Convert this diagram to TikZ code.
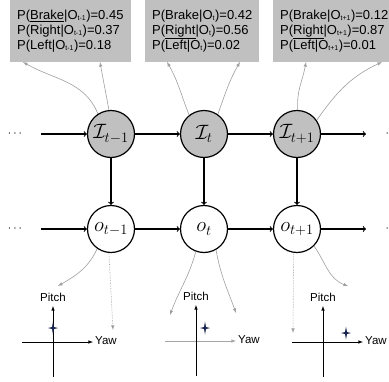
\documentclass[tikz,border=0pt]{standalone}
\usepackage{amssymb}
\usepackage{amsmath}
\usepackage{fontspec}
\setmainfont{Liberation Sans}
\usetikzlibrary{arrows,calc,positioning}
\definecolor{kastengrau}{HTML}{C0C0C0}
\definecolor{sterncolor}{HTML}{1B2752}
\newcommand{\tief}[1]{\textsubscript{\fontsize{7}{7}\selectfont #1}}

\begin{document}
\begin{tikzpicture}[x=1pt,y=1pt,
  zustand/.style={circle,draw=black,line width=1.2pt,minimum size=47pt,inner sep=0pt,font=\huge},
  pfeil/.style={->,line width=1.1pt},
  grau/.style={-latex,gray!75,line width=0.6pt},
  grauv/.style={-latex,gray!75,line width=0.6pt,densely dotted},
  achse/.style={-latex,line width=0.6pt},
  tafel/.style={fill=kastengrau,align=left,inner xsep=7pt,inner ysep=10pt,anchor=south west,
    font=\fontsize{13}{15}\selectfont}]
\useasboundingbox (0,0) rectangle (389,-381);
%Zustaende I und Beobachtungen o
\foreach \n/\x/\lab in {1/111/{t-1},2/204/t,3/297/{t+1}}{
  \node[zustand,fill=kastengrau] (I\n) at (\x,-134) {$\mathcal{I}_{\lab}$};
  \node[zustand] (o\n) at (\x,-229) {$o_{\lab}$};
  \draw[pfeil] (I\n) -- (o\n);
}
\foreach \r/\y in {I/134,o/229}{
  \node[font=\large] (links\r) at (16,-\y) {$\cdots$};
  \node[font=\large,anchor=west] (rechts\r) at (382,-\y) {$\cdots$};
  \coordinate (s\r) at (41,-\y);
  \coordinate (e\r) at (366,-\y);
  \draw[pfeil] (s\r) -- (\r1);
  \draw[pfeil] (\r1) -- (\r2);
  \draw[pfeil] (\r2) -- (\r3);
  \draw[pfeil] (\r3) -- (e\r);
}
%Wahrscheinlichkeiten
\node[tafel] (p1) at (10,-62) {P(\underline{Brake}|O\tief{t-1})=0.45\\P(Right|O\tief{t-1})=0.37\\P(Left|O\tief{t-1})=0.18};
\node[tafel] (p2) at (145,-62) {P(Brake|O\tief{t})=0.42\\P(\underline{Right}|O\tief{t})=0.56\\P(Left|O\tief{t})=0.02};
\node[tafel] (p3) at (273,-62) {P(Brake|O\tief{t+1})=0.12\\P(\underline{Right}|O\tief{t+1})=0.87\\P(Left|O\tief{t+1})=0.01};
\coordinate (q1) at (23,-62);
\coordinate (q2) at (100,-62);
\coordinate (q3) at (167,-62);
\coordinate (q4) at (240,-62);
\coordinate (q5) at (306,-62);
\coordinate (q6) at (382,-62);
\draw[grau] (I1.123) to[out=112,in=-30] (q1);
\draw[grau] (I1.95) to[out=100,in=-80] (q2);
\draw[grau] (I2.128) to[out=112,in=-60] (q3);
\draw[grau] (I2.55) to[out=70,in=-120] (q4);
\draw[grau] (I3.88) to[out=95,in=-100] (q5);
\draw[grau] (I3.35) to[out=55,in=-155] (q6);
%Zeiger nach unten
\coordinate (z1) at (58,-286);
\coordinate (z2) at (113,-330);
\coordinate (z3) at (170,-315);
\coordinate (z4) at (236,-313);
\coordinate (z5) at (293,-333);
\coordinate (z6) at (348,-286);
\draw[grau] (o1.235) to[out=-115,in=30] (z1);
\draw[grauv] (o1.265) -- (z2);
\draw[grau] (o2.250) to[out=-105,in=70] (z3);
\draw[grau] (o2.300) to[out=-80,in=110] (z4);
\draw[grauv] (o3.262) -- (z5);
\draw[grau] (o3.315) to[out=-55,in=160] (z6);
%Pitch/Yaw Diagramme
\foreach \i/\ox/\oy/\sx/\sy/\hf in {1/53/342/0/14/black,2/196/341/9/13/gray!70,3/323/342/23/9/black}{
  \draw[achse,\hf] (\ox-31,-\oy) -- (\ox+40,-\oy);
  \draw[achse] (\ox,-\oy-35) -- (\ox,-\oy+36);
  \node[font=\fontsize{11.5}{12}\selectfont] (pitch\i) at (\ox,-\oy+45) {Pitch};
  \node[font=\fontsize{11.5}{12}\selectfont,anchor=west,inner sep=1pt] (yaw\i) at (\ox+41,-\oy+1) {Yaw};
  \fill[sterncolor,shift={(\ox+\sx,-\oy+\sy)}] (0,6.5) -- (1,1) -- (5,0) -- (1,-1) -- (0,-6.5) -- (-1,-1) -- (-5,0) -- (-1,1) -- cycle;
}
\end{tikzpicture}
\end{document}
